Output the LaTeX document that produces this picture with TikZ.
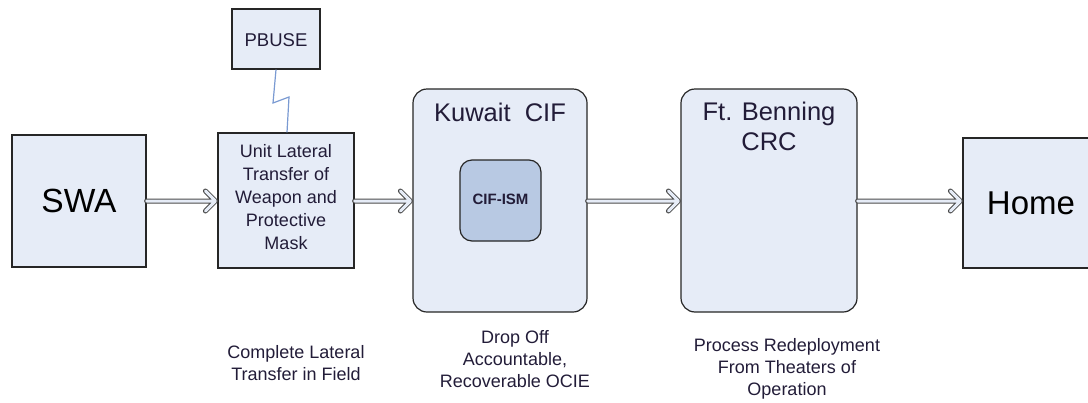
\documentclass[tikz,border=0pt]{standalone}
\usepackage{fontspec}
\setmainfont{Liberation Sans}
\definecolor{boxfill}{HTML}{E6ECF7}
\definecolor{ismfill}{HTML}{B8C9E3}
\definecolor{boltcol}{HTML}{7A9AD2}
\definecolor{txtcol}{HTML}{221C38}
\tikzset{
  box/.style={draw=black!85, line width=1.2pt, fill=boxfill, inner sep=0pt},
  rbox/.style={box, rounded corners=14pt},
  flow/.style={double=boxfill, draw=black!70, double distance=3pt, line width=1pt,
    line join=round, line cap=round,
    to path={(\tikztostart) -- ([xshift=-2pt]\tikztotarget) ++(-10,-10) -- ([xshift=-2pt]\tikztotarget) -- ++(-10,10)}},
  lbl/.style={align=center, font=\fontsize{18}{22}\selectfont, text=txtcol},
}
\begin{document}
\begin{tikzpicture}[x=1pt,y=-1pt]
\useasboundingbox (0,0) rectangle (1088,402);
% boxes
\node[box, minimum width=134pt, minimum height=132pt] (swa) at (79,201) {};
\node[font=\fontsize{33.5}{38}\selectfont] (swat) at (79,201) {SWA};
\node[box, minimum width=88pt, minimum height=60pt] (pbuse) at (276,39) {};
\node[font=\fontsize{18.5}{22}\selectfont, text=txtcol] (pbuset) at (276,40) {PBUSE};
\node[box, minimum width=136pt, minimum height=135pt] (unit) at (286,200.5) {};
\node[lbl, font=\fontsize{18}{23}\selectfont] (unitt) at (286,197) {Unit Lateral\\Transfer of\\Weapon and\\Protective\\Mask};
\node[rbox, minimum width=174pt, minimum height=223pt] (kuw) at (500,200.5) {};
\node[font=\fontsize{25.5}{30}\selectfont, text=txtcol] (kuwt) at (500,112) {Kuwait\ \ CIF};
\node[rbox, fill=ismfill, rounded corners=12pt, minimum width=81pt, minimum height=81pt] (ism) at (500.5,200.5) {};
\node[font=\bfseries\fontsize{15}{18}\selectfont, text=txtcol] (ismt) at (500.5,199) {CIF-ISM};
\node[rbox, minimum width=176pt, minimum height=223pt] (ftb) at (769,200.5) {};
\node[align=center, font=\fontsize{25.5}{30}\selectfont, text=txtcol] (ftbt) at (769,126) {Ft. Benning\\CRC};
\node[box, minimum width=140pt, minimum height=130pt] (home) at (1033,203) {};
\node[font=\fontsize{33}{38}\selectfont] (homet) at (1031,203) {Home};
% connectors
\draw[flow] (swa.east |- 0,201) to (unit.west |- 0,201);
\draw[flow] (unit.east |- 0,201) to (kuw.west |- 0,201);
\draw[flow] (kuw.east |- 0,201) to (ftb.west |- 0,201);
\draw[flow] (ftb.east |- 0,201) to (home.west |- 0,201);
\coordinate (b1) at (273,103);
\coordinate (b2) at (289,97);
\draw[boltcol, line width=1.2pt] (pbuse.south) -- (b1) -- (b2) -- (unit.north -| 287,0);
% labels
\node[lbl] (l1) at (296,363) {Complete Lateral\\Transfer in Field};
\node[lbl] (l2) at (515,359) {Drop Off\\Accountable,\\Recoverable OCIE};
\node[lbl] (l3) at (787,369) {Process Redeployment\\From Theaters of\\Operation};
\end{tikzpicture}
\end{document}
